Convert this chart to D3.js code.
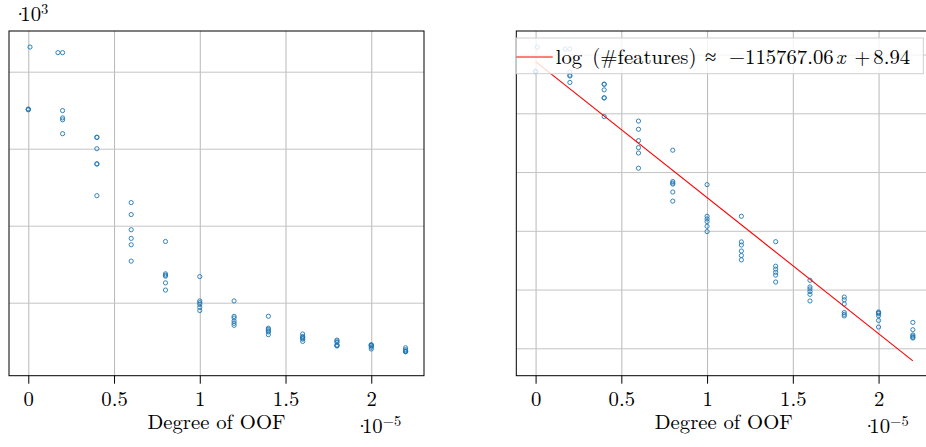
<!DOCTYPE html>
<html>
<head>
<meta charset="utf-8">
<script src="https://cdn.jsdelivr.net/npm/d3@7"></script>
<style>
  body { margin: 0; background: #fff; }
</style>
</head>
<body>
<div id="chart"></div>
<script>
// degree of OOF (in units of 1e-5) and number of features, one entry per run
const oofDegree = [
    0.01, 0, 0, 0,
    0.173, 0.2, 0.2, 0.2, 0.2, 0.2,
    0.4, 0.4, 0.4, 0.4, 0.4, 0.4,
    0.6, 0.6, 0.6, 0.6, 0.6, 0.6,
    0.8, 0.8, 0.8, 0.8, 0.8, 0.8,
    1.0, 1.0, 1.0, 1.0, 1.0, 1.0,
    1.2, 1.2, 1.2, 1.2, 1.2, 1.2,
    1.4, 1.4, 1.4, 1.4, 1.4, 1.4,
    1.6, 1.6, 1.6, 1.6, 1.6, 1.6,
    1.8, 1.8, 1.8, 1.8, 1.8, 1.8,
    2.0, 2.0, 2.0, 2.0, 2.0, 2.0,
    2.2, 2.2, 2.2, 2.2, 2.2, 2.2
];
const numFeatures = [
    8640, 7020, 7010, 7030,
    8495, 8495, 6990, 6800, 6750, 6390,
    6300, 6290, 6000, 5600, 5610, 4780,
    4600, 4290, 3895, 3670, 3505, 3080,
    3590, 2750, 2715, 2690, 2515, 2328,
    2678, 2046, 2000, 1956, 1879, 1796,
    2046, 1645, 1602, 1522, 1465, 1412,
    1648, 1338, 1305, 1270, 1240, 1169,
    1187, 1121, 1102, 1078, 1053, 995,
    1029, 1005, 970, 902, 888, 876,
    906, 900, 894, 878, 843, 797,
    829, 779, 745, 738, 730, 726
];

// fitted line: log(#features) = slope * x + intercept
const fitSlope = -115767.06;
const fitIntercept = 8.94;
const fitRange = [0, 2.2e-5];

const xTicks = [0, 0.5, 1, 1.5, 2];
const leftYTicks = [2000, 4000, 6000, 8000];
const rightYTicks = [6.5, 7, 7.5, 8, 8.5, 9];

const FONT = "'Latin Modern Roman', 'Liberation Serif', serif";
const FS = 20.7;

const W = 926, H = 447;
const panelW = 415, panelH = 344.7, plotTop = 31;
const panels = [
    {left: 9, ydomain: [104, 9057], yticks: leftYTicks, value: d => d, exp: true},
    {left: 516.3, ydomain: [6.2668, 9.2004], yticks: rightYTicks, value: d => Math.log(d), fit: true}
];

const svg = d3.select("#chart")
    .append("svg")
    .attr("width", W)
    .attr("height", H)
    .style("display", "block");

const x = d3.scaleLinear()
    .domain([-0.1125e-5, 2.3075e-5])
    .range([0, panelW]);

const points = oofDegree.map((d, i) => ({x: d * 1e-5, n: numFeatures[i]}));

// "·10^k" scale note, one text with tspans for TeX-like spacing
function scaleNote(g, x0, y0, exp) {
    const t = g.append("text")
        .style("font-family", FONT)
        .style("font-size", FS + "px");
    t.append("tspan").attr("x", x0 + 1.3).attr("y", y0 - 5.5).style("font-size", "7px").text("•");
    t.append("tspan").attr("x", x0 + 4).attr("y", y0).text("10");
    t.append("tspan").attr("x", x0 + 24.8).attr("y", y0 - 7.5).style("font-size", "14.5px").text(exp);
}

panels.forEach(p => {
    const g = svg.append("g")
        .attr("transform", `translate(${p.left},${plotTop})`);

    const y = d3.scaleLinear()
        .domain(p.ydomain)
        .range([panelH, 0]);

    // grid
    g.append("g")
        .attr("transform", `translate(0,${panelH})`)
        .call(d3.axisBottom(x).tickValues(xTicks.map(t => t * 1e-5)).tickSize(-panelH).tickFormat(""))
        .call(a => a.select(".domain").remove())
        .call(a => a.selectAll("line").attr("stroke", "#b8b8b8").attr("stroke-width", 1));

    g.append("g")
        .call(d3.axisLeft(y).tickValues(p.yticks).tickSize(-panelW).tickFormat(""))
        .call(a => a.select(".domain").remove())
        .call(a => a.selectAll("line").attr("stroke", "#c4c4c4").attr("stroke-width", 1));

    // x ticks and labels
    g.append("g")
        .attr("transform", `translate(0,${panelH})`)
        .call(d3.axisBottom(x).tickValues(xTicks.map(t => t * 1e-5)).tickSize(8).tickPadding(8)
            .tickFormat(d => String(+(d * 1e5).toFixed(1))))
        .call(a => a.select(".domain").remove())
        .call(a => a.selectAll("line").attr("stroke", "#000"))
        .call(a => a.selectAll("text")
            .style("font-family", FONT)
            .style("font-size", FS + "px")
            .attr("fill", "#000"));

    // markers
    g.append("g")
        .selectAll("circle")
        .data(points)
        .enter()
        .append("circle")
        .attr("cx", d => x(d.x))
        .attr("cy", d => y(p.value(d.n)))
        .attr("r", 2.1)
        .attr("fill", "none")
        .attr("stroke", "#1f77b4")
        .attr("stroke-width", 0.9);

    if (p.fit) {
        g.append("line")
            .attr("x1", x(fitRange[0]))
            .attr("y1", y(fitSlope * fitRange[0] + fitIntercept))
            .attr("x2", x(fitRange[1]))
            .attr("y2", y(fitSlope * fitRange[1] + fitIntercept))
            .attr("stroke", "red")
            .attr("stroke-width", 1.1);
    }

    // box
    g.append("rect")
        .attr("width", panelW)
        .attr("height", panelH)
        .attr("fill", "none")
        .attr("stroke", "#000")
        .attr("stroke-width", 1);

    // x label
    g.append("text")
        .attr("x", panelW / 2)
        .attr("y", 428.5 - plotTop)
        .attr("text-anchor", "middle")
        .style("font-family", FONT)
        .style("font-size", FS + "px")
        .text("Degree of OOF");

    scaleNote(g, panelW - 66, 433.3 - plotTop, "−5");
    if (p.exp) scaleNote(g, 7.3, 21 - plotTop, "3");

    if (p.fit) {
        // legend
        const lg = g.append("g")
            .attr("transform", `translate(0,${38 - plotTop})`);
        lg.append("rect")
            .attr("width", 407)
            .attr("height", 35.7)
            .attr("fill", "white")
            .attr("fill-opacity", 0.82)
            .attr("stroke", "#cfcfcf")
            .attr("stroke-width", 1);
        lg.append("line")
            .attr("x1", 0).attr("x2", 36.4)
            .attr("y1", 19).attr("y2", 19)
            .attr("stroke", "red")
            .attr("stroke-width", 1.1);
        const parts = [
            {t: "log", dx: 0},
            {t: "(#features)", dx: 36.6},
            {t: "≈", dx: 149.3},
            {t: "−115767.06", dx: 173.3},
            {t: "x", dx: 280, italic: true},
            {t: "+", dx: 298.6},
            {t: "8.94", dx: 317.6}
        ];
        const lt = lg.append("text")
            .attr("y", 25.5)
            .style("font-family", FONT)
            .style("font-size", FS + "px");
        lt.selectAll("tspan")
            .data(parts)
            .enter()
            .append("tspan")
            .attr("x", d => 39.4 + d.dx)
            .style("font-style", d => d.italic ? "italic" : null)
            .text(d => d.t);
    }
});
</script>
</body>
</html>
